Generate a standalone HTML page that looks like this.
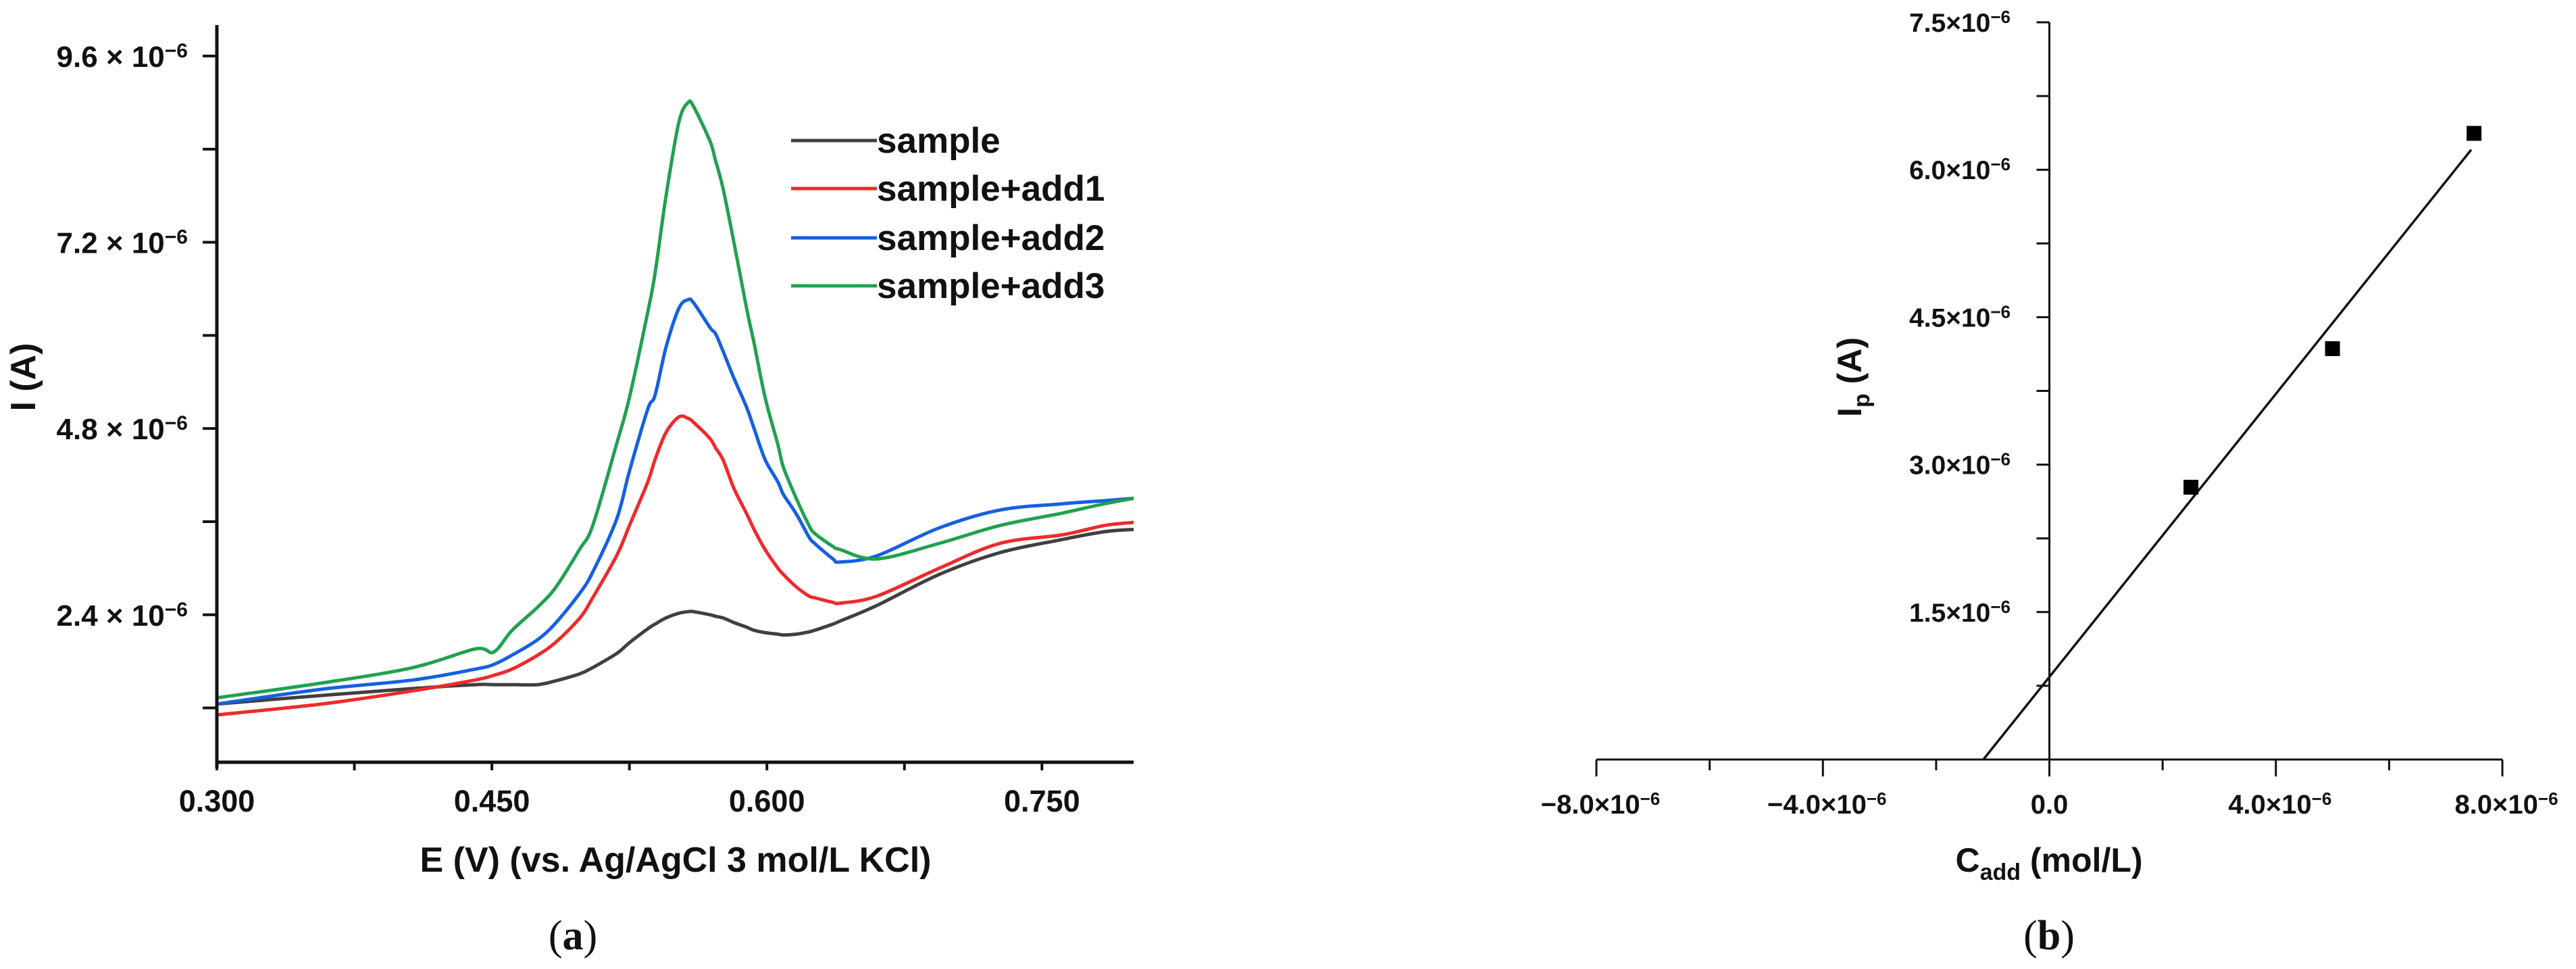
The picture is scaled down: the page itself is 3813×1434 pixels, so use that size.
<!DOCTYPE html>
<html><head><meta charset="utf-8"><style>
html,body{margin:0;padding:0;background:#fff}
svg{display:block}
text{font-family:"Liberation Sans",Arial,sans-serif;font-weight:bold;fill:#111}
</style></head><body>
<svg id="fig" width="3813" height="1434" viewBox="0 0 3813 1434" xmlns="http://www.w3.org/2000/svg">
<g id="pa"></g>
<g id="pb"></g>
</svg>
<script>
// Panel (a) data
const aE = [0.300,0.357,0.407,0.441,0.451,0.461,0.475,0.485,0.498,0.505,0.518,0.525,0.535,0.539,0.545,0.552,0.557,0.560,0.569,0.572,0.576,0.582,0.589,0.593,0.599,0.606,0.609,0.616,0.623,0.626,0.636,0.640,0.660,0.694,0.727,0.761,0.784,0.800];
const aSample = [1.25,1.36,1.45,1.50,1.50,1.50,1.50,1.55,1.64,1.72,1.90,2.04,2.22,2.28,2.36,2.42,2.44,2.44,2.40,2.38,2.36,2.30,2.24,2.20,2.17,2.15,2.14,2.15,2.18,2.20,2.28,2.32,2.52,2.92,3.20,3.37,3.47,3.50];
const aAdd1 = [1.11,1.25,1.42,1.56,1.62,1.70,1.88,2.05,2.36,2.62,3.16,3.55,4.11,4.40,4.75,4.95,4.93,4.88,4.67,4.55,4.40,4.03,3.70,3.50,3.24,3.00,2.92,2.76,2.64,2.62,2.56,2.55,2.64,3.00,3.32,3.43,3.55,3.59];
const aAdd2 = [1.25,1.44,1.56,1.70,1.76,1.88,2.08,2.30,2.68,2.95,3.63,4.25,5.05,5.23,5.85,6.35,6.46,6.42,6.10,6.02,5.80,5.45,5.07,4.80,4.40,4.11,3.95,3.70,3.40,3.32,3.12,3.08,3.16,3.52,3.75,3.83,3.87,3.90];
const aAdd3 = [1.33,1.52,1.72,1.96,1.92,2.20,2.50,2.76,3.25,3.55,4.60,5.20,6.30,6.80,7.80,8.75,9.00,8.95,8.50,8.25,7.90,7.20,6.34,5.90,5.20,4.59,4.30,3.90,3.55,3.45,3.28,3.24,3.12,3.32,3.55,3.71,3.83,3.90];
const aSeriesNames = ["sample","sample+add1","sample+add2","sample+add3"];
const aXTicks = [0.300,0.450,0.600,0.750];
const aXTickLabels = ["0.300","0.450","0.600","0.750"];
const aYTicks = [2.4,4.8,7.2,9.6];
const aYTickLabels = ["2.4","4.8","7.2","9.6"];
// Panel (b) data
const bConc = [2.5,5.0,7.5];
const bIp = [2.77,4.18,6.37];
const bXTicks = [-8,-4,0,4,8];
const bXTickLabels = ["\u22128.0","\u22124.0","0.0","4.0","8.0"];
const bYTicks = [1.5,3.0,4.5,6.0,7.5];
const bYTickLabels = ["1.5","3.0","4.5","6.0","7.5"];

const NS="http://www.w3.org/2000/svg";
function mk(tag,attrs,parent){const e=document.createElementNS(NS,tag);for(const k in attrs)e.setAttribute(k,attrs[k]);parent.appendChild(e);return e;}
function smooth(pts){
  let d="M"+pts[0][0].toFixed(1)+" "+pts[0][1].toFixed(1);
  for(let i=0;i<pts.length-1;i++){
    const p0=pts[Math.max(0,i-1)],p1=pts[i],p2=pts[i+1],p3=pts[Math.min(pts.length-1,i+2)];
    const c1=[p1[0]+(p2[0]-p0[0])/6,p1[1]+(p2[1]-p0[1])/6];
    const c2=[p2[0]-(p3[0]-p1[0])/6,p2[1]-(p3[1]-p1[1])/6];
    d+=" C"+c1[0].toFixed(1)+" "+c1[1].toFixed(1)+" "+c2[0].toFixed(1)+" "+c2[1].toFixed(1)+" "+p2[0].toFixed(1)+" "+p2[1].toFixed(1);
  }
  return d;
}

// ---------- Panel A ----------
const pa=document.getElementById('pa');
const ax={x0:321,x1:1678,y0:1128,y1:37,vmin:0.5,vmax:10.0,emin:0.3,emax:0.8};
const xa=v=>ax.x0+(v-ax.emin)/(ax.emax-ax.emin)*(ax.x1-ax.x0);
const ya=v=>ax.y0-(v-ax.vmin)/(ax.vmax-ax.vmin)*(ax.y0-ax.y1);
const colors=["#404040","#ee2a2a","#1560e0","#22a050"];
[aSample,aAdd1,aAdd2,aAdd3].forEach((s,i)=>{
  const pts=s.map((v,j)=>[xa(aE[j]),ya(v)]);
  const p=mk('path',{d:smooth(pts),fill:"none",stroke:colors[i],"stroke-width":5,"stroke-linejoin":"round"},pa);
  
  
});
let l=mk('line',{x1:ax.x0,y1:ax.y1,x2:ax.x0,y2:ax.y0+8,stroke:"#111","stroke-width":5},pa);


l=mk('line',{x1:ax.x0-2,y1:ax.y0,x2:ax.x1,y2:ax.y0,stroke:"#111","stroke-width":5},pa);


for(let v=0.3;v<=0.8001;v+=0.075){const t=mk('line',{x1:xa(v),y1:ax.y0,x2:xa(v),y2:ax.y0+12,stroke:"#111","stroke-width":4},pa);
  
  }
aXTicks.forEach((v,i)=>{const t=mk('text',{x:xa(v),y:1201,"text-anchor":"middle","font-size":45},pa);t.textContent=aXTickLabels[i];
  
  });
for(let v=1.2;v<=9.61;v+=1.2){const t=mk('line',{x1:ax.x0-21,y1:ya(v),x2:ax.x0,y2:ya(v),stroke:"#111","stroke-width":4},pa);
  
  }
aYTicks.forEach((v,i)=>{const t=mk('text',{x:278,y:ya(v)+16,"text-anchor":"end","font-size":44},pa);
  t.innerHTML=aYTickLabels[i]+" \u00d7 10<tspan dy=\"-14\" font-size=\"30\">\u22126</tspan>";
  
  });
let t=mk('text',{x:0,y:0,"text-anchor":"middle","font-size":52,transform:"translate(52 558) rotate(-90)"},pa);t.textContent="I (A)";


t=mk('text',{x:1000,y:1290,"text-anchor":"middle","font-size":52},pa);t.textContent="E (V) (vs. Ag/AgCl 3 mol/L KCl)";


t=mk('text',{x:848,y:1405,"text-anchor":"middle","font-size":62,style:"font-family:'Liberation Serif',serif;font-weight:normal"},pa);
t.innerHTML="(<tspan font-weight=\"bold\">a</tspan>)";


const legY=[208,279,352,423];
aSeriesNames.forEach((n,i)=>{
  const g=mk('g',{},pa);
  
  
  mk('line',{x1:1171,y1:legY[i],x2:1298,y2:legY[i],stroke:colors[i],"stroke-width":5},g);
  const tt=mk('text',{x:1298,y:legY[i]+18,"font-size":53},g);tt.textContent=n;
});

// ---------- Panel B ----------
const pb=document.getElementById('pb');
const bx={x0:2363,x1:3704,y0:1124,y1:33,cmin:-8,cmax:8,imin:0,imax:7.5};
const xb=v=>bx.x0+(v-bx.cmin)/(bx.cmax-bx.cmin)*(bx.x1-bx.x0);
const yb=v=>bx.y0-(v-bx.imin)/(bx.imax-bx.imin)*(bx.y0-bx.y1);
l=mk('line',{x1:xb(0),y1:bx.y1,x2:xb(0),y2:bx.y0,stroke:"#111","stroke-width":3},pb);


l=mk('line',{x1:bx.x0,y1:bx.y0,x2:bx.x1,y2:bx.y0,stroke:"#111","stroke-width":3},pb);


for(let v=-8;v<=8;v+=2){const tk=mk('line',{x1:xb(v),y1:bx.y0,x2:xb(v),y2:bx.y0+(v%4===0?25:16),stroke:"#111","stroke-width":3},pb);
  
  }
bXTicks.forEach((v,i)=>{const tx=mk('text',{x:xb(v)+(v===0?0:6),y:1204,"text-anchor":"middle","font-size":40},pb);
  tx.innerHTML=v===0?bXTickLabels[i]:bXTickLabels[i]+"\u00d710<tspan dy=\"-13\" font-size=\"26\">\u22126</tspan>";
  
  });
for(let v=0.75;v<=7.51;v+=0.75){const tk=mk('line',{x1:xb(0)-19,y1:yb(v),x2:xb(0),y2:yb(v),stroke:"#111","stroke-width":3},pb);
  
  }
bYTicks.forEach((v,i)=>{const tx=mk('text',{x:2976,y:yb(v)+14,"text-anchor":"end","font-size":39},pb);
  tx.innerHTML=bYTickLabels[i]+"\u00d710<tspan dy=\"-13\" font-size=\"26\">\u22126</tspan>";
  
  });
// least-squares fit
const n=bConc.length,mx=bConc.reduce((a,b)=>a+b)/n,my=bIp.reduce((a,b)=>a+b)/n;
let sxy=0,sxx=0;bConc.forEach((x,i)=>{sxy+=(x-mx)*(bIp[i]-my);sxx+=(x-mx)*(x-mx);});
const slope=sxy/sxx,icpt=my-slope*mx,xs=-icpt/slope,xe=bConc[n-1]-0.05;
l=mk('line',{x1:xb(xs),y1:yb(0),x2:xb(xe),y2:yb(icpt+slope*xe),stroke:"#111","stroke-width":3.5},pb);


bConc.forEach((c,i)=>{const r=mk('rect',{x:xb(c)-11,y:yb(bIp[i])-11,width:22,height:22,fill:"#000"},pb);
  
  });
t=mk('text',{x:0,y:0,"text-anchor":"middle","font-size":50,transform:"translate(2755 558) rotate(-90)"},pb);
t.innerHTML="I<tspan dy=\"12\" font-size=\"34\">p</tspan><tspan dy=\"-12\"> (A)</tspan>";


t=mk('text',{x:3033,y:1290,"text-anchor":"middle","font-size":50},pb);
t.innerHTML="C<tspan dy=\"12\" font-size=\"34\">add</tspan><tspan dy=\"-12\"> (mol/L)</tspan>";


t=mk('text',{x:3033,y:1405,"text-anchor":"middle","font-size":62,style:"font-family:'Liberation Serif',serif;font-weight:normal"},pb);
t.innerHTML="(<tspan font-weight=\"bold\">b</tspan>)";


</script>
</body></html>
